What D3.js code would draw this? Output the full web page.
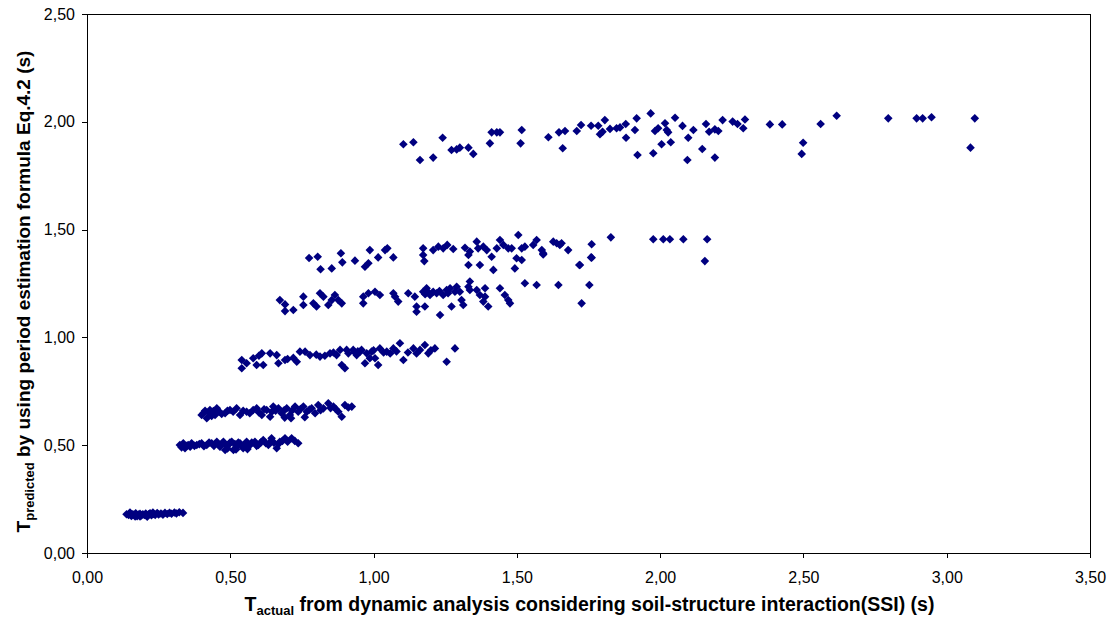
<!DOCTYPE html>
<html>
<head>
<meta charset="utf-8">
<script src="https://cdn.jsdelivr.net/npm/d3@7"></script>
<style>
  html, body { margin: 0; padding: 0; background: #fff; }
  svg { display: block; }
  text { font-family: "Liberation Sans", Arial, sans-serif; fill: #000; }
</style>
</head>
<body>
<svg id="chart" width="1117" height="620"></svg>
<script>
// ---- Data: [T_actual, T_predicted] pairs, grouped by band ----
const band1 = [[0.138,0.180],[0.145,0.176],[0.150,0.183],[0.155,0.172],[0.160,0.180],[0.165,0.176],[0.170,0.184],[0.175,0.171],[0.180,0.178],[0.185,0.182],[0.190,0.174],[0.195,0.180],[0.200,0.176],[0.205,0.183],[0.210,0.172],[0.215,0.179],[0.220,0.184],[0.225,0.175],[0.232,0.181],[0.238,0.177],[0.245,0.185],[0.250,0.179],[0.258,0.183],[0.265,0.178],[0.272,0.186],[0.280,0.181],[0.288,0.187],[0.295,0.182],[0.305,0.188],[0.312,0.183],[0.322,0.189],[0.335,0.186],[0.168,0.169],[0.185,0.170],[0.210,0.168],[0.150,0.188],[0.230,0.188]];

const band2 = [[0.324,0.501],[0.330,0.490],[0.336,0.509],[0.342,0.486],[0.348,0.497],[0.353,0.501],[0.360,0.493],[0.365,0.509],[0.375,0.497],[0.383,0.501],[0.392,0.505],[0.400,0.509],[0.408,0.495],[0.418,0.501],[0.426,0.512],[0.435,0.509],[0.443,0.497],[0.453,0.516],[0.458,0.503],[0.464,0.493],[0.470,0.506],[0.476,0.516],[0.482,0.478],[0.487,0.497],[0.493,0.501],[0.499,0.512],[0.505,0.516],[0.511,0.478],[0.516,0.505],[0.522,0.493],[0.528,0.512],[0.534,0.509],[0.540,0.497],[0.545,0.486],[0.551,0.505],[0.557,0.516],[0.563,0.497],[0.569,0.501],[0.575,0.512],[0.586,0.516],[0.592,0.497],[0.598,0.501],[0.606,0.512],[0.615,0.524],[0.624,0.509],[0.633,0.501],[0.640,0.516],[0.644,0.532],[0.652,0.512],[0.662,0.486],[0.668,0.505],[0.673,0.516],[0.682,0.520],[0.691,0.532],[0.700,0.516],[0.714,0.532],[0.725,0.520],[0.737,0.509],[0.490,0.485],[0.520,0.480],[0.560,0.482]];

const band3 = [[0.400,0.640],[0.406,0.648],[0.412,0.660],[0.418,0.625],[0.424,0.652],[0.429,0.663],[0.435,0.636],[0.441,0.658],[0.447,0.640],[0.453,0.671],[0.462,0.655],[0.470,0.645],[0.482,0.648],[0.490,0.660],[0.499,0.663],[0.510,0.655],[0.522,0.671],[0.534,0.640],[0.545,0.660],[0.557,0.655],[0.568,0.648],[0.580,0.663],[0.592,0.671],[0.600,0.652],[0.610,0.640],[0.618,0.667],[0.627,0.663],[0.639,0.632],[0.645,0.655],[0.650,0.679],[0.658,0.660],[0.668,0.671],[0.679,0.648],[0.688,0.662],[0.697,0.671],[0.708,0.640],[0.715,0.660],[0.726,0.679],[0.737,0.655],[0.745,0.668],[0.755,0.679],[0.767,0.655],[0.776,0.665],[0.784,0.671],[0.796,0.648],[0.807,0.686],[0.815,0.662],[0.825,0.671],[0.842,0.694],[0.850,0.672],[0.860,0.679],[0.868,0.668],[0.877,0.655],[0.889,0.632],[0.900,0.686],[0.912,0.675],[0.924,0.679],[0.712,0.625],[0.760,0.630],[0.690,0.628]];

const band4 = [[0.540,0.895],[0.540,0.857],[0.557,0.880],[0.580,0.903],[0.592,0.872],[0.610,0.926],[0.615,0.872],[0.639,0.926],[0.662,0.918],[0.668,0.880],[0.691,0.895],[0.732,0.887],[0.743,0.934],[0.761,0.934],[0.778,0.918],[0.813,0.911],[0.848,0.926],[0.871,0.918],[0.883,0.942],[0.889,0.872],[0.900,0.857],[0.906,0.942],[0.912,0.926],[0.929,0.942],[0.941,0.918],[0.953,0.934],[0.958,0.942],[0.970,0.880],[0.976,0.926],[0.987,0.903],[0.993,0.934],[1.005,0.903],[1.016,0.872],[1.022,0.949],[1.035,0.930],[1.046,0.934],[1.058,0.925],[1.069,0.949],[1.080,0.935],[1.092,0.973],[1.104,0.895],[1.120,0.930],[1.139,0.949],[1.150,0.925],[1.162,0.942],[1.179,0.965],[1.191,0.926],[1.214,0.949],[1.255,0.887],[1.284,0.949],[0.600,0.915],[0.700,0.900],[0.720,0.905],[0.800,0.920],[0.830,0.915],[0.860,0.930],[0.935,0.930],[0.945,0.935],[1.000,0.940],[1.200,0.940]];

const band5 = [[0.673,1.173],[0.691,1.153],[0.691,1.122],[0.720,1.127],[0.755,1.189],[0.755,1.150],[0.790,1.158],[0.801,1.143],[0.813,1.205],[0.825,1.189],[0.842,1.150],[0.854,1.173],[0.865,1.197],[0.877,1.173],[0.889,1.158],[0.964,1.189],[0.964,1.158],[0.982,1.205],[1.005,1.212],[1.022,1.197],[1.069,1.205],[1.075,1.189],[1.086,1.166],[1.121,1.205],[1.144,1.189],[1.150,1.119],[1.150,1.143],[1.173,1.212],[1.179,1.143],[1.185,1.228],[1.197,1.197],[1.208,1.212],[1.220,1.205],[1.232,1.104],[1.243,1.197],[1.267,1.228],[1.272,1.143],[1.284,1.212],[1.290,1.235],[1.301,1.212],[1.307,1.173],[1.313,1.150],[1.331,1.235],[1.336,1.220],[1.336,1.259],[1.360,1.220],[1.371,1.197],[1.389,1.228],[1.389,1.189],[1.383,1.166],[1.400,1.143],[1.441,1.228],[1.458,1.197],[1.470,1.173],[1.476,1.158],[1.528,1.251],[1.569,1.243],[1.645,1.243],[1.726,1.158],[1.753,1.243],[1.190,1.210],[1.230,1.215],[1.255,1.220],[1.180,1.200],[1.260,1.205]];

const band6 = [[0.775,1.368],[0.805,1.374],[0.815,1.316],[0.854,1.320],[0.886,1.390],[0.891,1.348],[0.935,1.356],[0.970,1.328],[0.982,1.344],[0.987,1.405],[1.016,1.371],[1.040,1.405],[1.048,1.413],[1.069,1.371],[1.173,1.413],[1.173,1.382],[1.177,1.354],[1.208,1.405],[1.226,1.421],[1.243,1.413],[1.257,1.429],[1.278,1.410],[1.319,1.416],[1.331,1.382],[1.336,1.398],[1.360,1.444],[1.365,1.413],[1.383,1.421],[1.395,1.405],[1.412,1.374],[1.430,1.413],[1.441,1.452],[1.453,1.429],[1.470,1.413],[1.482,1.413],[1.499,1.367],[1.505,1.475],[1.517,1.413],[1.528,1.421],[1.557,1.429],[1.569,1.452],[1.587,1.405],[1.592,1.390],[1.627,1.444],[1.650,1.429],[1.679,1.405],[1.761,1.432],[1.331,1.336],[1.371,1.336],[1.418,1.313],[1.493,1.320],[1.517,1.359],[1.592,1.385],[1.720,1.336],[1.761,1.370],[1.639,1.437],[1.656,1.437],[1.718,1.336],[1.759,1.371],[1.828,1.464],[1.976,1.455],[2.011,1.455],[2.034,1.455],[2.081,1.455],[2.164,1.455],[2.156,1.354]];

const band7 = [[1.104,1.896],[1.139,1.905],[1.162,1.823],[1.208,1.834],[1.241,1.926],[1.272,1.869],[1.290,1.872],[1.301,1.880],[1.331,1.880],[1.348,1.851],[1.406,1.900],[1.412,1.951],[1.430,1.951],[1.441,1.951],[1.517,1.962],[1.513,1.900],[1.610,1.928],[1.647,1.951],[1.660,1.877],[1.668,1.957],[1.709,1.957],[1.724,1.985],[1.759,1.982],[1.784,1.982],[1.790,1.942],[1.807,2.008],[1.799,1.954],[1.825,1.967],[1.848,1.970],[1.860,1.974],[1.880,1.990],[1.881,1.926],[1.912,1.962],[1.918,2.016],[1.921,1.846],[1.967,2.039],[1.976,1.854],[1.982,1.957],[1.993,1.970],[2.005,1.896],[2.017,1.993],[2.023,1.962],[2.028,1.951],[2.037,1.905],[2.052,2.019],[2.078,1.981],[2.095,1.823],[2.098,1.926],[2.116,1.962],[2.147,1.874],[2.160,1.990],[2.171,1.954],[2.191,1.834],[2.191,1.965],[2.203,1.957],[2.218,2.008],[2.253,2.001],[2.270,1.990],[2.290,1.970],[2.296,2.011],[2.383,1.988],[2.426,1.988],[2.494,1.851],[2.499,1.903],[2.560,1.990],[2.616,2.028],[2.796,2.016],[2.895,2.016],[2.916,2.016],[2.947,2.021],[3.083,1.880],[3.098,2.016]];

const xTicks = [0, 0.5, 1, 1.5, 2, 2.5, 3, 3.5];
const yTicks = [0, 0.5, 1, 1.5, 2, 2.5];
const xTitleMain = "T";
const xTitleSub = "actual";
const xTitleRest = " from dynamic analysis considering soil-structure interaction(SSI) (s)";
const yTitleMain = "T";
const yTitleSub = "predicted";
const yTitleRest = " by using period estimation formula Eq.4.2 (s)";

// ---- Layout ----
const svg = d3.select("#chart");
const plot = { left: 87, right: 1090, top: 14, bottom: 553 };
const x = d3.scaleLinear().domain([0, 3.5]).range([plot.left, plot.right]);
const y = d3.scaleLinear().domain([0, 2.5]).range([plot.bottom, plot.top]);
const fmt = v => d3.format(".2f")(v).replace(".", ",");

// Plot area frame
svg.append("rect")
  .attr("x", plot.left).attr("y", plot.top)
  .attr("width", plot.right - plot.left).attr("height", plot.bottom - plot.top)
  .attr("fill", "none").attr("stroke", "#000").attr("stroke-width", 1)
  .attr("shape-rendering", "crispEdges");

// Axes
const xAxis = d3.axisBottom(x).tickValues(xTicks).tickFormat(fmt).tickSizeInner(5).tickSizeOuter(0).tickPadding(14);
const yAxis = d3.axisLeft(y).tickValues(yTicks).tickFormat(fmt).tickSizeInner(5).tickSizeOuter(0).tickPadding(7);

const gx = svg.append("g").attr("transform", `translate(0,${plot.bottom})`).call(xAxis);
const gy = svg.append("g").attr("transform", `translate(${plot.left},0)`).call(yAxis);
[gx, gy].forEach(g => {
  g.selectAll(".domain").attr("stroke", "#000").attr("stroke-width", 1.5).attr("shape-rendering", "crispEdges");
  g.selectAll(".tick line").attr("stroke", "#000").attr("shape-rendering", "crispEdges");
  g.selectAll(".tick text").attr("font-size", 16).attr("font-family", "Liberation Sans, Arial, sans-serif").attr("fill", "#000");
});
gy.selectAll(".domain").attr("stroke-width", 1);

// Points
const all = [].concat(band1, band2, band3, band4, band5, band6, band7);
const r = 4.3;
const diamond = `M0,${-r}L${r},0L0,${r}L${-r},0Z`;
svg.append("g").selectAll("path")
  .data(all).join("path")
  .attr("d", diamond)
  .attr("transform", d => `translate(${x(d[0])},${y(d[1])})`)
  .attr("fill", "#000080");

// Axis titles
const xt = svg.append("text")
  .attr("x", (plot.left + plot.right) / 2 + 1).attr("y", 611)
  .attr("text-anchor", "middle").attr("font-weight", "bold").attr("font-size", 19.5);
xt.append("tspan").text(xTitleMain);
xt.append("tspan").attr("font-size", 13).attr("dy", 4).text(xTitleSub);
xt.append("tspan").attr("dy", -4).text(xTitleRest);

const yt = svg.append("text")
  .attr("transform", `translate(30,${(plot.top + plot.bottom) / 2 + 8}) rotate(-90)`)
  .attr("text-anchor", "middle").attr("font-weight", "bold").attr("font-size", 19);
yt.append("tspan").text(yTitleMain);
yt.append("tspan").attr("font-size", 13).attr("dy", 4).text(yTitleSub);
yt.append("tspan").attr("dy", -4).text(yTitleRest);
</script>
</body>
</html>
